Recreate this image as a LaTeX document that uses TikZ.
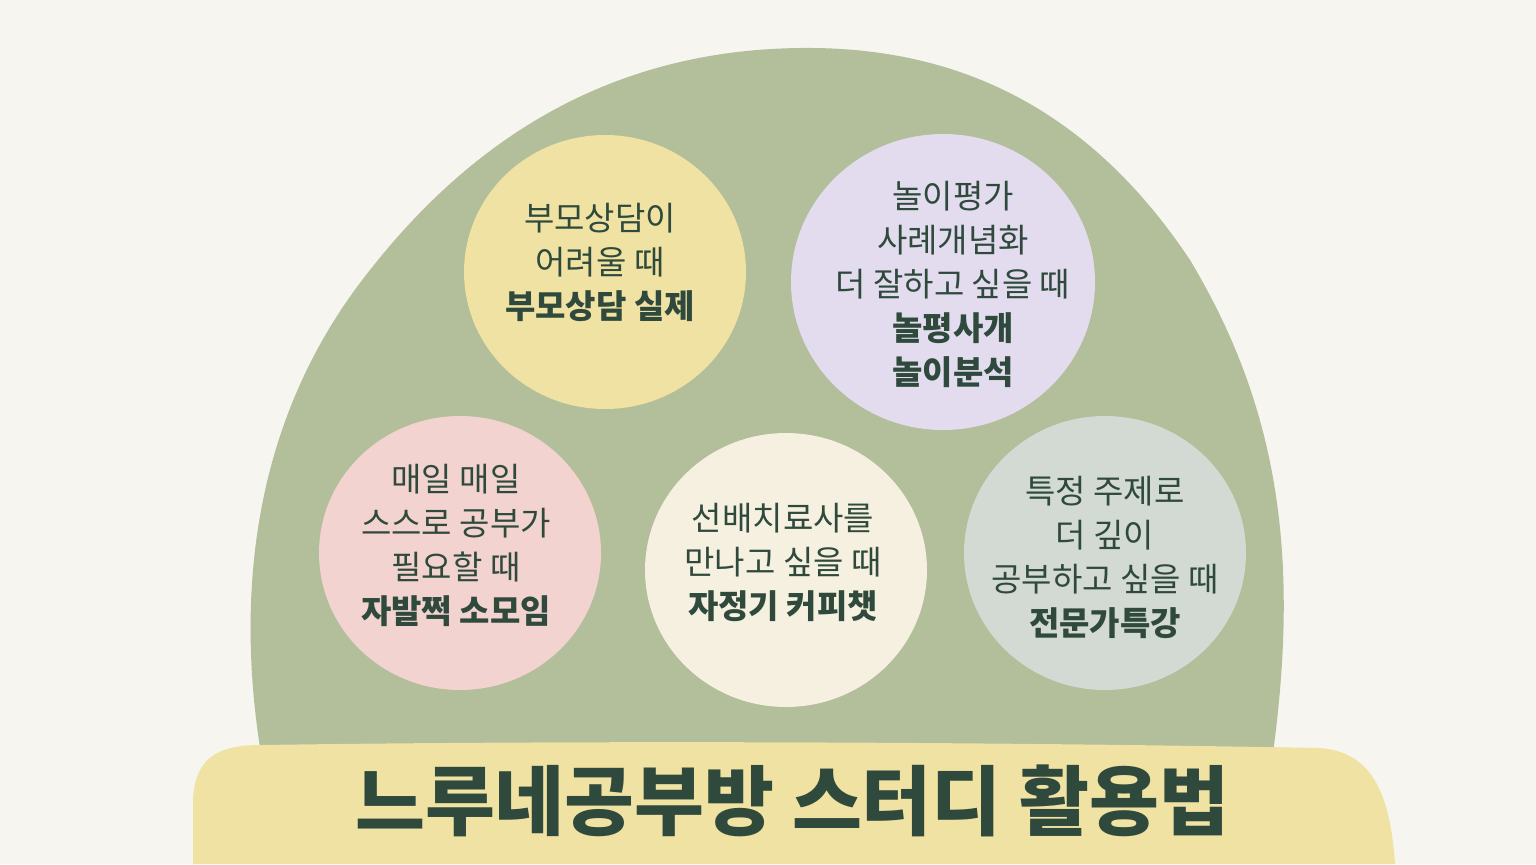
\documentclass[tikz,border=0pt]{standalone}
\usepackage{fontspec}
\setmainfont{Noto Sans CJK KR}
\newfontfamily\kb{Noto Sans CJK KR}[BoldFont=* Bold]
\definecolor{bg}{HTML}{F6F5F0}
\definecolor{green}{HTML}{B3BE9A}
\definecolor{ylw}{HTML}{F0E2A3}
\definecolor{lav}{HTML}{E3DCEF}
\definecolor{pnk}{HTML}{F3D3CF}
\definecolor{crm}{HTML}{F5F0E0}
\definecolor{gry}{HTML}{D3DAD3}
\definecolor{txt}{HTML}{2F4A3C}
\tikzset{
 blob/.style={ellipse, minimum width=#1},
 lbl/.style={align=center, text=txt, font=\fontsize{16.5}{22}\selectfont, inner sep=0pt},
}
\begin{document}
\begin{tikzpicture}[x=0.5pt,y=-0.5pt]
\useasboundingbox (0,0) rectangle (1536,864);
\fill[bg] (0,0) rectangle (1536,864);
% big green dome
\fill[green] (262,760) .. controls (235,600) and (250,420) .. (370,270)
 .. controls (480,130) and (620,50) .. (800,48)
 .. controls (960,46) and (1090,110) .. (1190,260)
 .. controls (1280,410) and (1300,560) .. (1272,760) -- cycle;
% ellipses
\fill[ylw] (605,272) ellipse [x radius=141, y radius=137];
\fill[lav] (943,282) ellipse [x radius=152, y radius=148];
\fill[pnk] (460,553) ellipse [x radius=141, y radius=137];
\fill[crm] (786,570) ellipse [x radius=141, y radius=137];
\fill[gry] (1105,553) ellipse [x radius=141, y radius=137];
\node[lbl] (a) at (600,262) {부모상담이\\어려울 때\\\textbf{부모상담 실제}};
\node[lbl] (b) at (953,284) {놀이평가\\사례개념화\\더 잘하고 싶을 때\\\textbf{놀평사개}\\\textbf{놀이분석}};
\node[lbl] (c) at (456,545) {매일 매일\\스스로 공부가\\필요할 때\\\textbf{자발쩍 소모임}};
\node[lbl] (d) at (783,562) {선배치료사를\\만나고 싶을 때\\\textbf{자정기 커피챗}};
\node[lbl] (e) at (1105,557) {특정 주제로\\더 깊이\\공부하고 싶을 때\\\textbf{전문가특강}};
% banner
\fill[ylw] (193,864) -- (193,800) .. controls (195,760) and (215,745) .. (260,745)
 .. controls (600,740) and (1000,742) .. (1320,748)
 .. controls (1370,752) and (1390,790) .. (1395,864) -- cycle;
\node[text=txt, font=\fontsize{38}{40}\selectfont\bfseries, inner sep=0pt] (t) at (792,801) {느루네공부방 스터디 활용법};
\end{tikzpicture}
\end{document}
